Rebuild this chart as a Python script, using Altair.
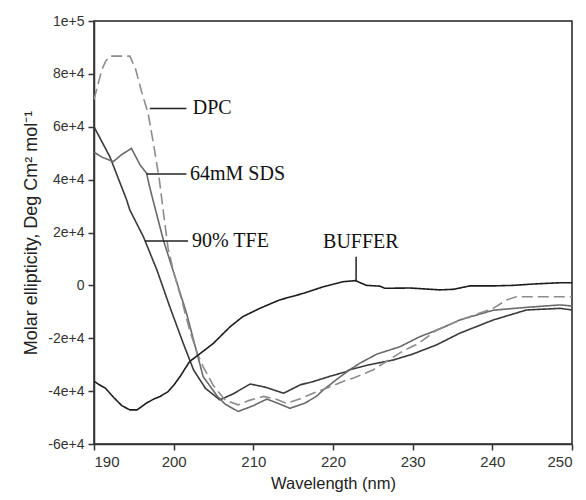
import altair as alt
import pandas as pd

# ---- data ----
tfe_wl = [190, 192, 194.1, 194.5, 196.2, 197.9, 199.5, 201.2, 202.5, 204, 205.8, 207.5, 209.6, 211.5,
          213.8, 215.9, 217.5, 219.5, 221.7, 222.1, 224.6, 227.6, 230, 233.0, 235.9, 240.1, 244.3, 248.5, 250]
tfe_val = [60000, 48600, 32300, 28500, 18400, 5800, -8000, -21900, -32000, -39000, -43300, -41000, -37300, -38500,
           -40800, -37600, -36400, -34500, -32600, -31900, -30000, -28200, -26000, -22500, -18100, -13100, -9300, -8700, -9300]

sds_wl = [190, 191, 192.4, 193.5, 194.7, 195.8, 196.6, 197.0, 198.7, 200.2, 201.6, 203.7, 205.5, 206.5, 208.1,
          210, 211.7, 213, 214.6, 216.5, 217.9, 218.8, 220.5, 222.1, 223.4, 225.5, 228.4, 230.9, 233.4, 235.9,
          240.1, 244.3, 248.5, 250]
sds_val = [50400, 48500, 46800, 49500, 51800, 45500, 42400, 37000, 17200, 3000, -10400, -34500, -42000, -45000, -47700,
           -45500, -43000, -44500, -46500, -44500, -42000, -39500, -35500, -31900, -29400, -26000, -23200, -19400, -16500, -13100,
           -9400, -8300, -7400, -7800]

dpc_wl = [190, 190.5, 191, 191.5, 192, 194.5, 195.2, 196, 196.8, 197.5, 198.2, 198.7, 199.3, 200, 201, 202.0,
          203.0, 203.7, 205, 206.5, 208.1, 209.5, 211.3, 212.8, 214.2, 215.8, 217.5, 219.5, 221.7, 222.6, 225.0,
          228.8, 230.7, 233.0, 236.5, 240.1, 241.8, 243, 250]
dpc_val = [70300, 76000, 81700, 85000, 86700, 86700, 82000, 73000, 65000, 53000, 40000, 28000, 14000, 5000, -5500, -16900,
           -26000, -30700, -38000, -43500, -45200, -43500, -42000, -43000, -44600, -43000, -40800, -38500, -35800, -35000, -32000,
           -24800, -22000, -16900, -12500, -8700, -5500, -4300, -4300]

buf_wl = [190.1, 190.6, 191.4, 192.5, 193.5, 194.5, 195.4, 196.6, 197.5, 198.3, 199.3, 200.0, 200.8, 202.0, 203.1,
          205.0, 207.1, 208.7, 210.8, 213.3, 216.3, 218.8, 221.3, 222.8, 224.2, 225.9, 226.5, 229.7, 233.4, 235.1,
          237.2, 240.1, 242.6, 245.1, 248.5, 250]
buf_val = [-36400, -37500, -38800, -42500, -45500, -47100, -47100, -44500, -43000, -42000, -40200, -37800, -34500, -28800, -26300,
           -21900, -15600, -11800, -8700, -5500, -3000, -500, 1400, 1800, 0, -300, -1100, -1000, -1700, -1500,
           -200, -200, 0, 500, 1000, 1000]

series_names = ["90% TFE", "64mM SDS", "DPC", "BUFFER"]
series_colors = ["#3a3a3a", "#6a6a6a", "#8c8c8c", "#1c1c1c"]
series_dash = [[1, 0], [1, 0], [11, 5], [1, 0]]

label_text = ["DPC", "64mM SDS", "90% TFE", "BUFFER"]
label_x = [202.4, 202.05, 202.3, 223.5]
label_y = [67000, 42100, 16800, 16500]
label_align = ["left", "left", "left", "center"]

ptr_x = [197.0, 196.6, 196.4, 222.9]
ptr_x2 = [201.6, 201.6, 201.8, 222.9]
ptr_y = [66900, 42100, 16800, 10850]
ptr_y2 = [66900, 42100, 16800, 1400]

y_ticks = [-60000, -40000, -20000, 0, 20000, 40000, 60000, 80000, 100000]
x_ticks = [190, 200, 210, 220, 230, 240, 250]

# ---- tables ----
rows = []
for name, wls, vals in zip(series_names, [tfe_wl, sds_wl, dpc_wl, buf_wl], [tfe_val, sds_val, dpc_val, buf_val]):
    for i, (w, v) in enumerate(zip(wls, vals)):
        rows.append({"series": name, "wl": w, "val": v, "idx": i})
df = pd.DataFrame(rows)

lab = pd.DataFrame({"text": label_text, "x": label_x, "y": label_y, "align": label_align})
ptr = pd.DataFrame({"x": ptr_x, "x2": ptr_x2, "y": ptr_y, "y2": ptr_y2})

xscale = alt.Scale(domain=[190, 250], nice=False, zero=False)
yscale = alt.Scale(domain=[-60000, 100000], nice=False, zero=False)

lines = alt.Chart(df).mark_line(strokeWidth=1.6, clip=True).encode(
    x=alt.X("wl:Q", scale=xscale,
            axis=alt.Axis(title="Wavelength (nm)", values=x_ticks, grid=False, format="d",
                          labelFont="Liberation Sans", labelFontSize=15, labelColor="#333",
                          titleFont="Liberation Sans", titleFontSize=16.5, titleFontWeight="normal",
                          titleColor="#222", titlePadding=6, labelPadding=4,
                          tickSize=6, tickColor="#333", tickWidth=1.5, domainColor="#333", domainWidth=1.5)),
    y=alt.Y("val:Q", scale=yscale,
            axis=alt.Axis(title="Molar ellipticity, Deg Cm² mol⁻¹", values=y_ticks, grid=False,
                          labelExpr="datum.value == 0 ? '0' : (datum.value < 0 ? '-' : '') + format(abs(datum.value), '.0e')",
                          labelFont="Liberation Sans", labelFontSize=14, labelColor="#333",
                          titleFont="Liberation Sans", titleFontSize=18, titleFontWeight="normal",
                          titleColor="#222", titlePadding=7, labelPadding=4,
                          tickSize=6, tickColor="#333", tickWidth=1.5, domainColor="#333", domainWidth=1.5)),
    color=alt.Color("series:N", scale=alt.Scale(domain=series_names, range=series_colors), legend=None),
    strokeDash=alt.StrokeDash("series:N", scale=alt.Scale(domain=series_names, range=series_dash), legend=None),
    order="idx:Q",
    detail="series:N",
)

rules = alt.Chart(ptr).mark_rule(color="#222", strokeWidth=1.5).encode(
    x=alt.X("x:Q", scale=xscale), x2="x2:Q",
    y=alt.Y("y:Q", scale=yscale), y2="y2:Q",
)

texts_left = alt.Chart(lab[lab["align"] == "left"]).mark_text(
    align="left", baseline="middle", font="Liberation Serif", fontSize=20, color="#111"
).encode(x=alt.X("x:Q", scale=xscale), y=alt.Y("y:Q", scale=yscale), text="text:N")

texts_center = alt.Chart(lab[lab["align"] == "center"]).mark_text(
    align="center", baseline="middle", font="Liberation Serif", fontSize=20, color="#111"
).encode(x=alt.X("x:Q", scale=xscale), y=alt.Y("y:Q", scale=yscale), text="text:N")

chart = alt.layer(lines, rules, texts_left, texts_center).properties(
    width=478, height=423,
    autosize=alt.AutoSizeParams(type="none"),
    padding={"left": 94, "top": 21, "right": 14, "bottom": 56},
    background="white",
).configure_view(stroke="#222", strokeWidth=1.5)

chart.save("out.html", embed_options={"renderer": "svg", "actions": False})
